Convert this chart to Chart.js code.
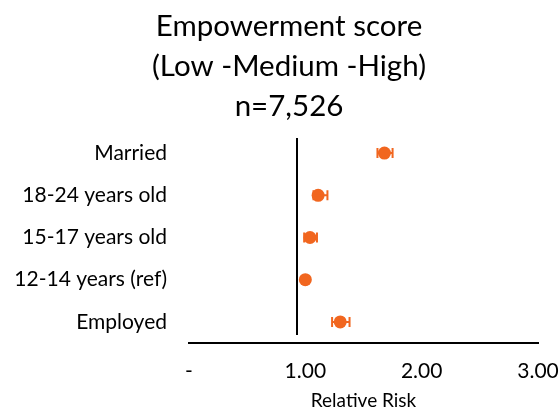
<!DOCTYPE html>
<html>
<head>
<meta charset="utf-8">
<script src="https://cdn.jsdelivr.net/npm/chart.js@4/dist/chart.umd.min.js"></script>
<style>
  html, body { margin: 0; padding: 0; background: #ffffff; }
  #wrap { width: 560px; height: 409px; }
</style>
</head>
<body>
<div id="wrap"><canvas id="c"></canvas></div>
<script>
// Relative risk estimates with 95% confidence intervals
const categories = ['Married', '18-24 years old', '15-17 years old', '12-14 years (ref)', 'Employed'];
const relativeRisk = [1.68, 1.11, 1.04, 1.00, 1.30];
const lowerCI = [1.62, 1.07, 0.99, 1.00, 1.23];
const upperCI = [1.75, 1.19, 1.10, 1.00, 1.38];
const xTickLabels = ['-', '1.00', '2.00', '3.00'];
const referenceLine = 0.93;

const ORANGE = '#F1661F';
const FONT = 'Lato, "Open Sans", sans-serif';

// Horizontal confidence-interval whiskers with end caps
const errorBars = {
  id: 'errorBars',
  afterDatasetsDraw(chart) {
    const { ctx, scales: { x, y } } = chart;
    ctx.save();
    ctx.strokeStyle = ORANGE;
    ctx.lineWidth = 2;
    categories.forEach((cat, i) => {
      if (upperCI[i] <= lowerCI[i]) return;
      const yp = y.getPixelForValue(i);
      const x0 = x.getPixelForValue(lowerCI[i]);
      const x1 = x.getPixelForValue(upperCI[i]);
      const cap = 5;
      ctx.beginPath();
      ctx.moveTo(x0, yp); ctx.lineTo(x1, yp);
      ctx.moveTo(x0, yp - cap); ctx.lineTo(x0, yp + cap);
      ctx.moveTo(x1, yp - cap); ctx.lineTo(x1, yp + cap);
      ctx.stroke();
    });
    ctx.restore();
  }
};

// Vertical line marking no effect
const refLine = {
  id: 'refLine',
  beforeDatasetsDraw(chart) {
    const { ctx, scales: { x, y } } = chart;
    const xp = Math.round(x.getPixelForValue(referenceLine));
    ctx.save();
    ctx.strokeStyle = '#000000';
    ctx.lineWidth = 2;
    ctx.beginPath();
    ctx.moveTo(xp, y.getPixelForValue(-0.36));
    ctx.lineTo(xp, y.getPixelForValue(4.31));
    ctx.stroke();
    ctx.restore();
  }
};

// Centre the title block over the plot rather than the full canvas width
const titleShift = {
  id: 'titleShift',
  afterLayout(chart) {
    if (chart.titleBlock) chart.titleBlock.left = 40;
  }
};

new Chart(document.getElementById('c'), {
  type: 'scatter',
  data: {
    labels: categories,
    datasets: [{
      data: categories.map((c, i) => ({ x: relativeRisk[i], y: c })),
      backgroundColor: ORANGE,
      borderColor: ORANGE,
      pointRadius: 6.5,
      pointHoverRadius: 6.5,
      borderWidth: 0
    }]
  },
  options: {
    responsive: true,
    maintainAspectRatio: false,
    animation: false,
    layout: { padding: { left: 0, right: 22, top: 0, bottom: 0 } },
    plugins: {
      legend: { display: false },
      tooltip: { enabled: false },
      title: {
        display: true,
        text: ['Empowerment score', '(Low -Medium -High)', 'n=7,526'],
        color: '#000000',
        font: { family: FONT, size: 29.5, weight: 'normal', lineHeight: 40 / 29.5 },
        padding: { top: 6, bottom: 6 }
      }
    },
    scales: {
      x: {
        type: 'linear',
        min: 0,
        max: 3,
        grid: { display: false, drawTicks: false },
        border: { display: true, color: '#000000', width: 2 },
        ticks: {
          stepSize: 1,
          padding: 16,
          color: '#000000',
          font: { family: FONT, size: 21 },
          callback: (v) => xTickLabels[v]
        },
        title: {
          display: true,
          text: 'Relative Risk',
          color: '#000000',
          font: { family: FONT, size: 19, lineHeight: 0.9 },
          padding: { top: 0, bottom: 0 }
        },
        afterFit(scale) {
          scale.height = 66;
          scale.paddingLeft = 0;
          scale.paddingRight = 0;
        }
      },
      y: {
        type: 'category',
        labels: categories,
        offset: true,
        grid: { display: false, drawTicks: false },
        border: { display: false },
        ticks: {
          padding: 22,
          color: '#000000',
          font: { family: FONT, size: 21 }
        },
        afterFit(scale) { scale.width = 189; }
      }
    }
  },
  plugins: [refLine, errorBars, titleShift]
});
</script>
</body>
</html>
